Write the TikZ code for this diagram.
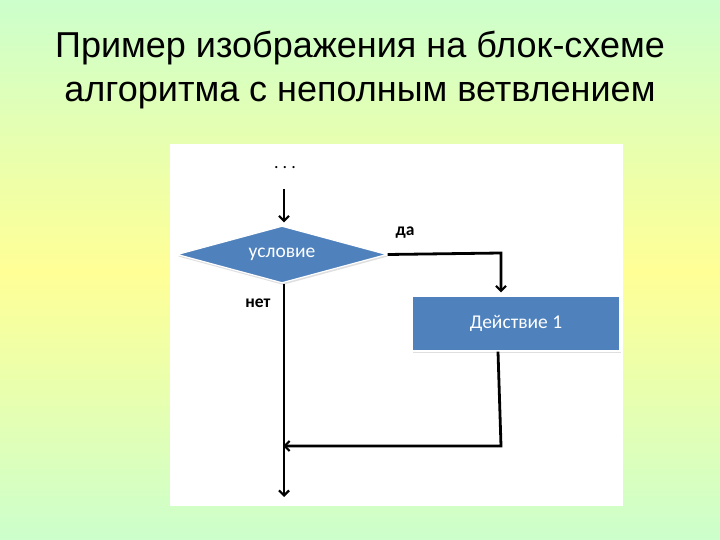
\documentclass[tikz,border=0pt]{standalone}
\usepackage{fontspec}
\setmainfont{Liberation Sans}
\newfontfamily\calib{Carlito}
\usetikzlibrary{shapes.geometric,arrows.meta,shadows}
\definecolor{bggreen}{RGB}{204,255,204}
\definecolor{bgyellow}{RGB}{255,255,150}
\definecolor{boxblue}{RGB}{79,129,189}
\tikzset{
  arr/.style={line width=2.8pt, -{Straight Barb[length=5pt,width=10pt,line width=2.2pt]}},
  bluebox/.style={fill=boxblue, draw=white, line width=1.2pt, text=white, font=\calib\fontsize{19.5}{22}\selectfont,
     drop shadow={opacity=0.25, shadow xshift=1pt, shadow yshift=-2pt}},
  lbl/.style={font=\calib\bfseries\fontsize{17.5}{20}\selectfont, text=black},
  titletxt/.style={font=\fontsize{36}{40}\selectfont, text=black, anchor=base}
}
\begin{document}
\begin{tikzpicture}[x=1pt,y=-1pt]
\useasboundingbox (0,0) rectangle (720,540);
\shade[top color=bggreen, bottom color=bgyellow] (0,0) rectangle (720,272);
\shade[top color=bgyellow, bottom color=bggreen] (0,271) rectangle (720,540);
\fill[white] (170,144) rectangle (623,506);

\node[titletxt] (t1) at (360,58) {Пример изображения на блок-схеме};
\node[titletxt] (t2) at (360,101.5) {алгоритма с неполным ветвлением};

\node[font=\calib\fontsize{18}{20}\selectfont, anchor=base] (dots) at (285,169) {.\hspace{4pt}.\hspace{4pt}.};
\coordinate (s) at (284,189);
\node[bluebox, diamond, aspect=3.7, minimum width=210pt, minimum height=57pt, inner sep=0pt] (d) at (282,254.5) {условие};
\node[bluebox, rectangle, minimum width=208pt, minimum height=55pt] (act) at (516,323.5) {Действие 1};

\coordinate (yt) at (501,253);
\coordinate (bk) at (501,446);
\coordinate (mj) at (284,446);
\coordinate (e) at (284,497);

\draw[arr, shorten >=3pt] (s) -- (s |- d.north);
\draw[arr, shorten >=3pt] (d.east) -- (yt) -- (yt |- act.north);
\draw[arr] (e |- d.south) -- (e);
\draw[arr, shorten >=-1pt] ([xshift=-18pt]act.south) -- (bk) -- (mj);

\node[lbl] (yes) at (405,233) {да};
\node[lbl] (no) at (258,303) {нет};
\end{tikzpicture}
\end{document}
